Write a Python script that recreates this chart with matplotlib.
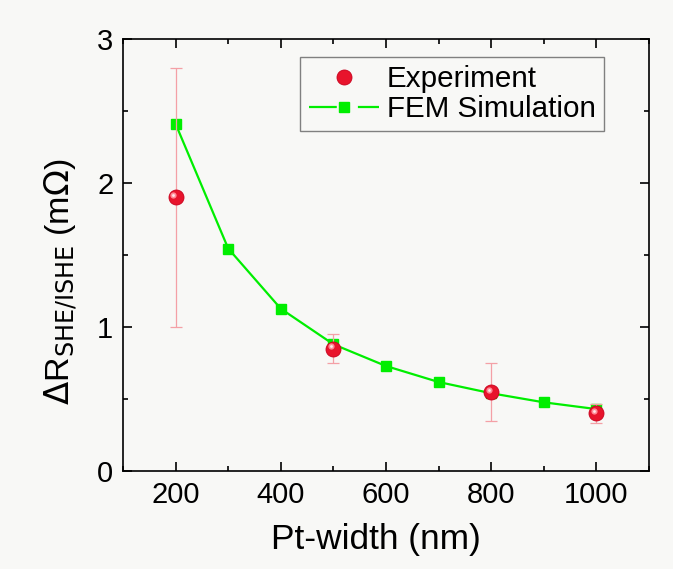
import matplotlib
matplotlib.use("Agg")
import matplotlib.pyplot as plt
from matplotlib.lines import Line2D
from matplotlib.transforms import ScaledTranslation
from matplotlib.ticker import MultipleLocator

# Data
exp_width = [200, 500, 800, 1000]
exp_val = [1.90, 0.85, 0.55, 0.40]
exp_err = [0.90, 0.10, 0.20, 0.065]

sim_width = [200, 300, 400, 500, 600, 700, 800, 900, 1000]
sim_val = [2.41, 1.545, 1.127, 0.88, 0.729, 0.618, 0.54, 0.477, 0.43]

xticks = [200, 400, 600, 800, 1000]
yticks = [0, 1, 2, 3]

plt.rcParams['font.family'] = ['Liberation Sans', 'DejaVu Sans']
bg = '#f8f8f6'
green = '#00ee00'
red = '#e8142c'

fig = plt.figure(figsize=(6.73, 5.69), dpi=100, facecolor=bg)
ax = fig.add_axes([0.1828, 0.1722, 0.9643 - 0.1828, 0.9315 - 0.1722], facecolor=bg)

# Simulation
ax.plot(sim_width, sim_val, color=green, lw=1.6, marker='s', ms=6.5,
        mfc=green, mec=green, zorder=2)

# Experiment error bars
ax.errorbar(exp_width, exp_val, yerr=exp_err, fmt='none', ecolor='#f4a0a6',
            elinewidth=0.9, capsize=4.5, capthick=0.9, zorder=3)
# sphere-like markers
ax.plot(exp_width, exp_val, 'o', ms=10.8, mfc=red, mec='#c8001c', mew=0.6, zorder=4)
off1 = ax.transData + ScaledTranslation(-1.6 / 72, 1.6 / 72, fig.dpi_scale_trans)
ax.plot(exp_width, exp_val, 'o', ms=4.5, mfc='#ff8a96', mec='none', zorder=5, transform=off1)
ax.plot(exp_width, exp_val, 'o', ms=2.0, mfc='#ffe8ea', mec='none', zorder=6, transform=off1)

ax.set_xlim(100, 1100)
ax.set_ylim(0, 3)
ax.set_xticks(xticks)
ax.set_yticks(yticks)
ax.xaxis.set_minor_locator(MultipleLocator(100))
ax.yaxis.set_minor_locator(MultipleLocator(0.5))
ax.tick_params(which='both', direction='in', top=True, right=True, width=1.2, color='black')
ax.tick_params(which='major', length=6.5, labelsize=21, pad=7)
ax.tick_params(which='minor', length=3.6)
ax.tick_params(axis='y', pad=7)
for s in ax.spines.values():
    s.set_linewidth(1.2)

ax.set_xlabel('Pt-width (nm)', fontsize=25.4)
ax.xaxis.set_label_coords(0.48, -0.121)
ax.xaxis.label.set_va('top')
ax.set_ylabel(r'$\Delta$R$_{\mathrm{SHE/ISHE}}$ (m$\Omega$)', fontsize=24.5)
ax.yaxis.set_label_coords(-0.081, 0.4375)

# Legend handles
h_exp = Line2D([], [], ls='none', marker='o', ms=10.8, mfc=red, mec='#c8001c', mew=0.6)
h_sim_line = Line2D([], [], color=green, lw=1.6, dashes=[12.5, 9.5])
h_sim_mark = Line2D([], [], ls='none', marker='s', ms=6.5, mfc=green, mec=green)
leg = ax.legend([h_exp, (h_sim_line, h_sim_mark)], ['Experiment', 'FEM Simulation'],
                loc='upper right', bbox_to_anchor=(0.9144, 0.958), borderaxespad=0,
                fontsize=21.3, handlelength=2.37, handletextpad=0.27, labelspacing=0.05,
                borderpad=0.28, fancybox=False, framealpha=1, facecolor=bg,
                edgecolor='#808080')
leg.get_frame().set_linewidth(1.0)

fig.savefig('out.png', dpi=100, facecolor=bg)
